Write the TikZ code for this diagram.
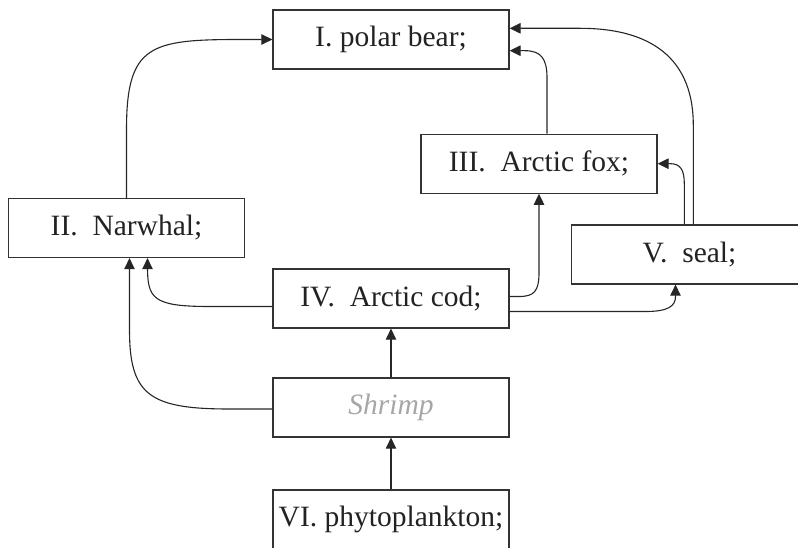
\documentclass[tikz,border=0pt]{standalone}
\usepackage{fontspec}
\setmainfont{Liberation Serif}
\usetikzlibrary{arrows.meta,calc}
\definecolor{boxc}{HTML}{333333}
\definecolor{linec}{HTML}{262626}
\definecolor{txtc}{HTML}{222222}
\definecolor{shrimpc}{HTML}{A6A6A6}
\begin{document}
\begin{tikzpicture}[x=1pt,y=-1pt,
  box/.style={draw=boxc, line width=1.3pt, minimum width=236pt, minimum height=59pt,
    inner sep=0pt, font=\fontsize{29.5}{35}\selectfont, text=txtc},
  conn/.style={draw=linec, line width=1.1pt, -{Triangle[length=11pt,width=10.5pt]}},
]
\useasboundingbox (0,0) rectangle (798,548);
\clip (0,0) rectangle (798,548);

\node[box] (bear) at (391,39.5) {I. polar bear;};
\node[box] (fox) at (539,163.7) {III.\ \ Arctic fox;};
\node[box] (nar) at (126.5,228) {II.\ \ Narwhal;};
\node[box] (seal) at (689.5,254.5) {V.\ \ seal;};
\node[box] (cod) at (391,298.5) {IV.\ \ Arctic cod;};
\node[box, text=shrimpc, font=\fontsize{29.5}{35}\selectfont\itshape] (shrimp) at (391,407.5) {Shrimp};
\node[box] (phyto) at (391,519.5) {VI. phytoplankton;};

% anchor points on the boxes
\coordinate (b1) at ($(bear.east)+(0,-11.2)$);
\coordinate (b2) at ($(bear.east)+(0,11.2)$);
\coordinate (f1) at ($(fox.north)+(8,0)$);
\coordinate (s3) at ($(seal.north)+(3.8,0)$);
\coordinate (s4) at ($(seal.north)+(-5.2,0)$);
\coordinate (s6) at ($(seal.south)+(-14,0)$);
\coordinate (c5) at ($(cod.east)+(0,-2)$);
\coordinate (c6) at ($(cod.east)+(0,13)$);
\coordinate (c7) at ($(cod.west)+(0,8)$);
\coordinate (c8) at ($(shrimp.west)+(0,1.5)$);
\coordinate (n7) at ($(nar.south)+(21,0)$);
\coordinate (n8) at ($(nar.south)+(3,0)$);

% Narwhal -> polar bear
\draw[conn] (nar.north) -- ($(nar.north|-bear.west)+(0,90)$)
  .. controls ($(nar.north|-bear.west)+(0,5.5)$) and ($(nar.north|-bear.west)+(23.5,0)$)
  .. ($(nar.north|-bear.west)+(113.5,0)$) -- (bear.west);
% Arctic fox -> polar bear
\draw[conn] (f1) -- ($(f1|-b2)+(0,27)$)
  .. controls ($(f1|-b2)+(0,8)$) and ($(f1|-b2)+(-6,0)$)
  .. ($(f1|-b2)+(-22,0)$) -- (b2);
% seal -> polar bear
\draw[conn] (s3) -- ($(s3|-b1)+(0,97)$)
  .. controls ($(s3|-b1)+(0,22)$) and ($(s3|-b1)+(-53,0)$)
  .. ($(s3|-b1)+(-113,0)$) -- (b1);
% seal -> Arctic fox
\draw[conn] (s4) -- ($(s4|-fox.east)+(0,20)$)
  .. controls ($(s4|-fox.east)+(0,6)$) and ($(s4|-fox.east)+(-4,0)$)
  .. ($(s4|-fox.east)+(-14,0)$) -- (fox.east);
% Arctic cod -> Arctic fox
\draw[conn] (c5) -- ($(fox.south|-c5)+(-20,0)$)
  .. controls ($(fox.south|-c5)+(-5,0)$) and ($(fox.south|-c5)+(0,-5)$)
  .. ($(fox.south|-c5)+(0,-24)$) -- (fox.south);
% Arctic cod -> seal
\draw[conn] (c6) -- ($(s6|-c6)+(-30,0)$)
  .. controls ($(s6|-c6)+(-8,0)$) and ($(s6|-c6)+(0,-5)$)
  .. ($(s6|-c6)+(0,-15)$) -- (s6);
% Arctic cod -> Narwhal
\draw[conn] (c7) -- ($(n7|-c7)+(62,0)$)
  .. controls ($(n7|-c7)+(5,0)$) and ($(n7|-c7)+(0,-8)$)
  .. ($(n7|-c7)+(0,-40)$) -- (n7);
% Shrimp -> Narwhal
\draw[conn] (c8) -- ($(n8|-c8)+(100,0)$)
  .. controls ($(n8|-c8)+(20,0)$) and ($(n8|-c8)+(0,-14)$)
  .. ($(n8|-c8)+(0,-79)$) -- (n8);
% Shrimp -> Arctic cod
\draw[conn] (shrimp.north) -- (cod.south);
% phytoplankton -> Shrimp
\draw[conn] (phyto.north) -- (shrimp.south);
\end{tikzpicture}
\end{document}
